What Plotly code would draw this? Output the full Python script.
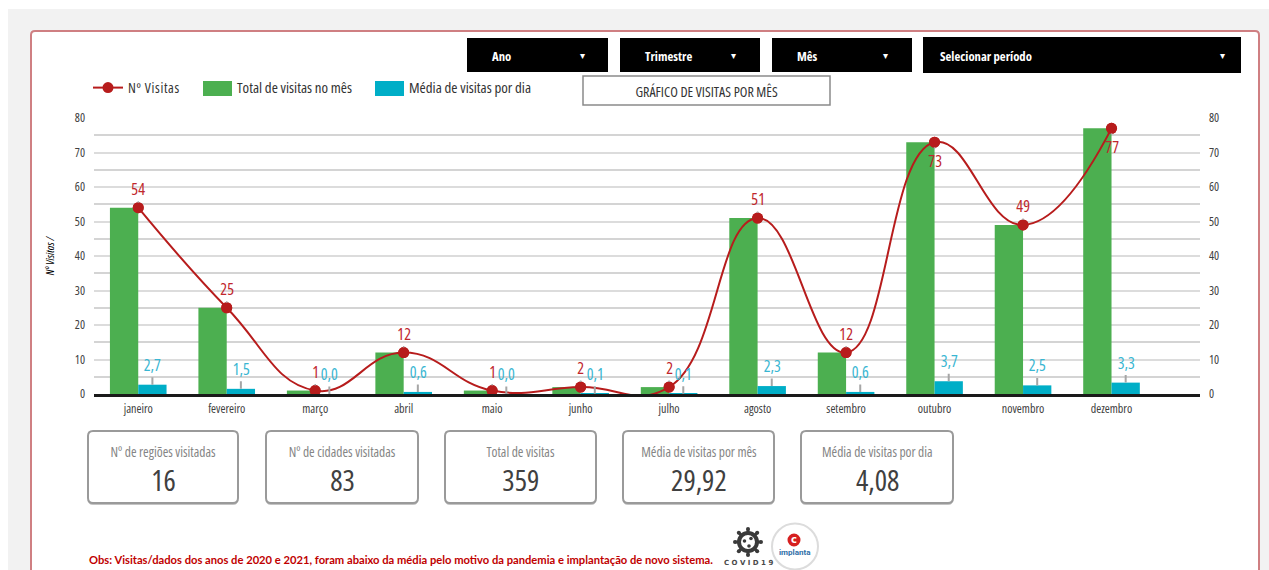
import plotly.graph_objects as go

months = ["janeiro", "fevereiro", "março", "abril", "maio", "junho", "julho",
          "agosto", "setembro", "outubro", "novembro", "dezembro"]
visitas = [54, 25, 1, 12, 1, 2, 2, 51, 12, 73, 49, 77]
media_dia = [2.7, 1.5, 0.0, 0.6, 0.0, 0.1, 0.1, 2.3, 0.6, 3.7, 2.5, 3.3]
media_labels = ["2,7", "1,5", "0,0", "0,6", "0,0", "0,1", "0,1", "2,3", "0,6", "3,7", "2,5", "3,3"]
kpi_titles = ["Nº de regiões visitadas", "Nº de cidades visitadas", "Total de visitas",
              "Média de visitas por mês", "Média de visitas por dia"]
kpi_values = ["16", "83", "359", "29,92", "4,08"]
y_ticks = [0, 10, 20, 30, 40, 50, 60, 70, 80]

W, H = 1269, 570
L, R, T, B = 94, 1200, 118, 394
NARROW = "Open Sans"
GREEN, BLUE, RED = "#4caf50", "#00aec7", "#b71c1c"

def px(x): return (x - L) / (R - L)
def py(y): return (B - y) / (B - T)

def nf(size, color, family=NARROW, **kw):
    return dict(size=size, color=color, family=family, **kw)

def rrect(x0, y0, x1, y1, r, **kw):
    X0, X1, Y0, Y1 = px(x0), px(x1), py(y0), py(y1)
    rx, ry = r / (R - L), r / (B - T)
    d = (f"M{X0+rx},{Y0} L{X1-rx},{Y0} Q{X1},{Y0} {X1},{Y0-ry} L{X1},{Y1+ry} Q{X1},{Y1} {X1-rx},{Y1} "
         f"L{X0+rx},{Y1} Q{X0},{Y1} {X0},{Y1+ry} L{X0},{Y0-ry} Q{X0},{Y0} {X0+rx},{Y0} Z")
    return dict(type="path", path=d, xref="paper", yref="paper", **kw)

def box(x0, y0, x1, y1, fill, line=None, lw=0, layer="below"):
    return dict(type="rect", xref="paper", yref="paper", x0=px(x0), x1=px(x1), y0=py(y0), y1=py(y1),
                fillcolor=fill, line=dict(color=line or fill, width=lw), layer=layer)

def circ(cx, cy, r, fill, line=None, lw=0):
    return dict(type="circle", xref="paper", yref="paper", x0=px(cx - r), x1=px(cx + r), y0=py(cy + r), y1=py(cy - r),
                fillcolor=fill, line=dict(color=line or fill, width=lw), layer="above")

def text(x, y, s, size, color, anchor="center", family=NARROW, **kw):
    return dict(xref="paper", yref="paper", x=px(x), y=py(y), text=s, showarrow=False, align=anchor,
                xanchor=anchor, yanchor="middle", font=nf(size, color, family), **kw)

shapes, ann = [], []
# page
shapes.append(box(8, 9, 1269, 570, "#f2f2f2"))
shapes.append(rrect(31, 31, 1259, 600, 4, fillcolor="white", line=dict(color="#cf7f82", width=2), layer="below"))

# legend swatches (plotly's own are a small square)
shapes.append(box(203, 81, 232, 96, GREEN))
shapes.append(box(375, 81, 404, 96, BLUE))

# dropdowns
for x0, x1, y0, y1, lab, tx, arrow in [
    (467, 608, 38, 72, "Ano", 490, 582), (620, 760, 38, 72, "Trimestre", 643, 733),
    (772, 912, 38, 72, "Mês", 795, 885), (923, 1241, 37, 73, "Selecionar período", 938, 1222)]:
    shapes.append(box(x0, y0, x1, y1, "#000000"))
    ann.append(text(tx, 56, "<b>" + lab + "</b>", 12.7, "white", anchor="left"))
    ann.append(text(arrow, 56, "▾", 10, "white", family="DejaVu Sans"))

# chart title button
shapes.append(box(583, 76, 830, 105, "white", line="#8a8a8a", lw=1.5))
ann.append(text(706, 91, "GRÁFICO DE VISITAS POR MÊS", 14, "#333333"))

# KPI cards
for (x0, x1), t, v in zip([(88, 238), (266, 418), (445, 596), (623, 774), (801, 953)], kpi_titles, kpi_values):
    shapes.append(rrect(x0, 433, x1, 505, 5, fillcolor="#c4c4c4", line=dict(width=0), layer="below"))
    shapes.append(rrect(x0, 431, x1, 503, 5, fillcolor="white", line=dict(color="#9a9a9a", width=2), layer="below"))
    c = (x0 + x1) / 2
    ann.append(text(c, 452, t, 13.5, "#858585"))
    ann.append(text(c, 479.5, v, 29, "#404040"))

# footer
ann.append(text(87, 559, "<b>Obs: Visitas/dados dos anos de 2020 e 2021, foram abaixo da média pelo motivo da pandemia e implantação de novo sistema.</b>",
                11.2, "#c00000", anchor="left", family="Lato"))

# COVID logo
for a, b, c, d in [(748, 529, 748, 555), (735, 542, 761, 542), (738.8, 532.8, 757.2, 551.2), (738.8, 551.2, 757.2, 532.8)]:
    shapes.append(dict(type="line", xref="paper", yref="paper", x0=px(a), x1=px(c), y0=py(b), y1=py(d),
                       line=dict(color="#3a3a3a", width=3), layer="above"))
shapes.append(circ(748, 542, 9, "white", line="#3a3a3a", lw=4))
for cx, cy in [(744.5, 541), (751, 538.5), (749, 546)]:
    shapes.append(circ(cx, cy, 1.8, "#3a3a3a"))
for cx, cy in [(748, 529), (748, 555), (735, 542), (761, 542), (738.8, 532.8), (757.2, 551.2), (738.8, 551.2), (757.2, 532.8)]:
    shapes.append(circ(cx, cy, 2, "#3a3a3a"))
ann.append(text(748, 563, "<b>C O V I D 1 9</b>", 7, "#4a4a4a", family="DejaVu Sans"))
# implanta logo
shapes.append(circ(795, 546.5, 23, "white", line="#dcdcdc", lw=2))
shapes.append(circ(794, 540, 6.5, "#d62020"))
ann.append(text(794, 539.5, "<b>c</b>", 10, "white", family="DejaVu Sans"))
ann.append(text(795, 552, "<b>implanta</b>", 8, "#2f6fa8", family="Roboto"))

# data labels with leader lines
for i, v in enumerate(visitas):
    below = v in (73, 77)
    ann.append(dict(x=i, y=v, xref="x", yref="y", text=str(v), ax=0, ay=19 if below else -19,
                    showarrow=True, arrowhead=0, arrowwidth=1.5, arrowcolor="#a6a6a6", standoff=5,
                    font=nf(16, "#c0272d")))
for i, (v, s) in enumerate(zip(media_dia, media_labels)):
    ann.append(dict(x=i + 0.16, y=v, xref="x", yref="y", text=s, ax=0, ay=-20,
                    showarrow=True, arrowhead=0, arrowwidth=2, arrowcolor="#a6a6a6",
                    font=nf(16, "#39b6d2")))

idx = list(range(12))
fig = go.Figure()
fig.add_trace(go.Scatter(x=idx, y=visitas, name="Nº Visitas", mode="lines+markers",
                         line=dict(color=RED, width=2, shape="spline", smoothing=1.3),
                         marker=dict(size=11, color=RED), legend="legend"))
fig.add_trace(go.Bar(x=idx, y=visitas, name="Total de visitas no mês", marker=dict(color=GREEN, line_width=0), legend="legend2"))
fig.add_trace(go.Bar(x=idx, y=media_dia, name="Média de visitas por dia", marker=dict(color=BLUE, line_width=0), legend="legend3"))
fig.add_trace(go.Scatter(x=idx, y=visitas, mode="markers", showlegend=False, cliponaxis=False,
                         marker=dict(size=11, color=RED), hoverinfo="skip"))
# right axis copy
fig.add_trace(go.Scatter(x=[None], y=[None], yaxis="y2", showlegend=False))

def leg(x, size):
    return dict(orientation="h", x=px(x), xanchor="left", y=py(88), yanchor="middle",
                font=nf(size, "#333333"), bgcolor="rgba(0,0,0,0)", itemwidth=30)

fig.update_layout(
    width=W, height=H, autosize=False, paper_bgcolor="white", plot_bgcolor="rgba(0,0,0,0)",
    margin=dict(l=L, r=W - R, t=T, b=H - B),
    barmode="group", bargap=0.36, bargroupgap=0,
    font=nf(11, "#404040"),
    xaxis=dict(range=[-0.5, 12], tickvals=idx, ticktext=months, showgrid=False, zeroline=False,
               showline=True, linecolor="#1a1a1a", linewidth=2.5, ticks="", ticklabelstandoff=2,
               tickfont=nf(12, "#404040")),
    yaxis=dict(range=[0, 80], tickvals=y_ticks, gridcolor="#dcdcdc", gridwidth=2, zeroline=False,
               showline=False, ticks="", ticklabelstandoff=8, tickfont=nf(12, "#404040"),
               minor=dict(dtick=5, showgrid=True, gridcolor="#d4d4d4", gridwidth=2),
               title=dict(text="<i>Nº Visitas /</i>", font=nf(11, "#000000"), standoff=14)),
    yaxis2=dict(range=[0, 80], tickvals=y_ticks, overlaying="y", side="right", showgrid=False,
                zeroline=False, ticks="", ticklabelstandoff=8, tickfont=nf(12, "#404040")),
    legend=leg(88, 14), legend2=leg(197, 14.9), legend3=leg(369, 14.9),
    shapes=shapes, annotations=ann,
)
css = ("var s=document.createElement('style');s.textContent='text[style*=\"Open Sans\"],text[style*=\"Open Sans\"] tspan{font-stretch:75%}"
       " .legendtext{letter-spacing:0.65px}';document.head.appendChild(s);")
fig.write_html("out.html", post_script="document.body.style.margin='0';document.body.style.overflow='hidden';" + css,
               config=dict(displayModeBar=False))
